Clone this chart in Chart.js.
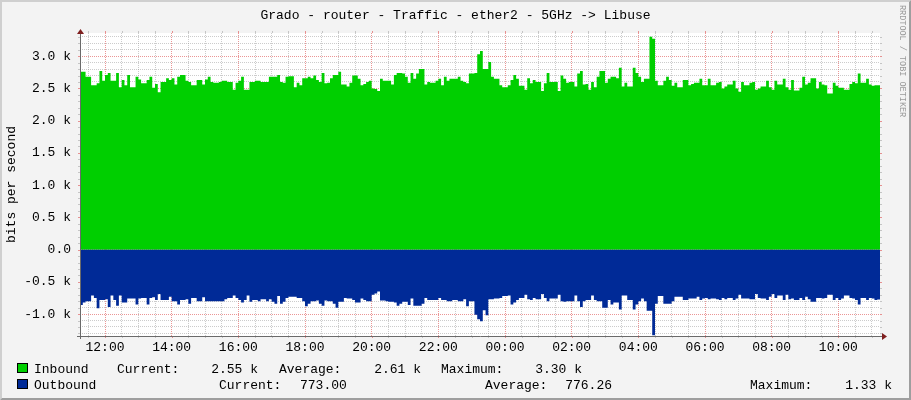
<!DOCTYPE html>
<html>
<head>
<meta charset="utf-8">
<title>Grado - router - Traffic - ether2 - 5GHz -&gt; Libuse</title>
<script src="https://cdn.jsdelivr.net/npm/chart.js@4.4.1/dist/chart.umd.min.js"></script>
<style>
  html, body { margin: 0; padding: 0; background: #f3f3f3; }
  #wrap { width: 911px; height: 400px; }
</style>
</head>
<body>
<div id="wrap"><canvas id="traffic" width="911" height="400"></canvas></div>
<script>
// 24h window, one sample every 5 minutes, first sample at 11:15
var startMinute = 675;
var stepMinutes = 5;

// bits per second
var inbound = [
  2760,2760,2680,2680,2550,2550,2580,2770,2620,2710,
  2740,2620,2620,2740,2520,2630,2550,2710,2520,2520,
  2680,2640,2580,2580,2630,2680,2510,2570,2440,2600,
  2600,2660,2630,2660,2560,2680,2710,2710,2620,2600,
  2550,2550,2630,2630,2560,2640,2680,2600,2590,2590,
  2600,2620,2620,2600,2600,2480,2590,2620,2680,2480,
  2480,2600,2600,2620,2620,2600,2600,2600,2680,2680,
  2680,2710,2600,2590,2680,2690,2690,2520,2590,2550,
  2660,2660,2680,2660,2700,2630,2600,2740,2580,2590,
  2660,2710,2710,2760,2560,2560,
  2530,2590,2700,2700,2650,2550,2570,2600,2620,2500,
  2490,2460,2650,2620,2620,2620,2560,2710,2740,2740,
  2730,2680,2590,2740,2650,2730,2800,2800,2560,2600,
  2590,2590,2620,2650,2550,2680,2620,2650,2650,2650,
  2680,2620,2600,2580,2730,2730,2740,3030,3080,2800,
  2800,2910,2680,2650,2650,2550,2520,2520,2550,2630,
  2710,2650,2540,2540,2480,2660,2580,2630,2600,2600,
  2460,2580,2740,2600,2600,2600,2460,2700,2650,2590,
  2600,2600,2530,2730,2770,2560,2570,2480,2600,2520,
  2680,2770,2770,2590,2650,2680,
  2680,2660,2820,2530,2590,2530,2530,2820,2740,2680,
  2600,2650,2650,3300,3270,2620,2550,2550,2620,2680,
  2630,2540,2590,2520,2520,2630,2630,2550,2570,2590,
  2590,2650,2550,2550,2650,2550,2550,2590,2600,2500,
  2530,2560,2560,2620,2500,2450,2600,2550,2550,2590,
  2600,2480,2500,2530,2530,2620,2520,2480,2620,2560,
  2560,2650,2520,2480,2630,2470,2470,2510,2680,2560,
  2590,2660,2660,2500,2600,2560,2550,2420,2420,2590,
  2540,2510,2510,2480,2480,2570,2600,2580,2730,2590,
  2590,2650,2560,2540,2550,2550
];

var outbound = [
  860,820,800,800,710,750,910,780,780,770,
  890,710,780,870,710,820,820,760,760,760,
  850,760,750,750,850,750,740,780,690,780,
  780,780,730,800,800,850,780,780,770,840,
  750,750,800,800,740,800,800,800,800,800,
  800,800,770,750,750,710,750,780,820,780,
  710,810,780,780,800,770,770,800,770,810,
  840,720,840,810,750,730,730,730,750,750,
  800,880,840,800,800,790,840,870,790,800,
  800,840,900,810,810,750,
  760,760,780,820,820,760,780,800,800,700,
  680,650,790,790,800,810,810,820,870,840,
  810,810,860,760,870,870,870,840,750,780,
  780,780,780,750,780,780,800,800,780,780,
  800,800,770,880,800,800,1010,1080,1110,940,
  1020,770,770,760,760,750,720,720,710,850,
  820,780,750,750,700,770,780,750,770,770,
  690,750,800,760,760,760,700,800,810,800,
  800,800,710,800,890,800,780,780,710,780,
  800,800,900,900,780,850,
  820,820,930,710,710,780,780,930,850,800,
  760,800,950,950,1330,840,720,720,840,840,
  840,800,730,730,730,780,780,760,760,760,
  730,780,760,750,770,760,760,770,780,750,
  770,750,750,780,760,700,760,760,760,770,
  770,690,750,760,760,780,730,690,750,710,
  710,780,700,770,760,780,780,750,780,730,
  770,810,810,750,750,760,750,700,700,780,
  750,780,760,710,710,750,760,780,850,750,
  750,780,750,760,780,773
];

var yTickLabels = ['-1.0 k', '-0.5 k', '0.0', '0.5 k', '1.0 k', '1.5 k', '2.0 k', '2.5 k', '3.0 k'];
var xTickLabels = ['12:00', '14:00', '16:00', '18:00', '20:00', '22:00',
                   '00:00', '02:00', '04:00', '06:00', '08:00', '10:00'];

var inboundStats = ['Current:', '2.55 k', 'Average:', '2.61 k', 'Maximum:', '3.30 k'];
var outboundStats = ['Current:', '773.00', 'Average:', '776.26', 'Maximum:', '1.33 k'];

var FONT = '"Liberation Mono", "DejaVu Sans Mono", monospace';
var GREEN = '#00CF00';
var BLUE = '#002A97';
var GRID = 'rgba(143,143,143,0.45)';
var MGRID = 'rgba(222,80,80,0.6)';

function series(values, sign) {
  var pts = values.map(function (v, i) {
    return { x: startMinute + i * stepMinutes, y: sign * v };
  });
  // close the last 5 minute step at the end of the window
  pts.push({ x: startMinute + values.length * stepMinutes, y: sign * values[values.length - 1] });
  return pts;
}

function isMajorY(v) { return v % 500 === 0; }
function isMajorX(v) { return v % 120 === 0; }

var rrdLook = {
  id: 'rrdLook',
  beforeDraw: function (chart) {
    var ctx = chart.ctx, a = chart.chartArea;
    ctx.save();
    ctx.fillStyle = '#f3f3f3';
    ctx.fillRect(0, 0, chart.width, chart.height);
    ctx.fillStyle = '#ffffff';
    ctx.fillRect(a.left, a.top, a.right - a.left, a.bottom - a.top);
    ctx.restore();
  },
  afterDraw: function (chart) {
    var ctx = chart.ctx, a = chart.chartArea;
    var W = chart.width, H = chart.height;
    var xs = chart.scales.x, ys = chart.scales.y;
    ctx.save();

    // little tick marks on both sides of the canvas
    ctx.lineWidth = 1;
    ys.ticks.forEach(function (t) {
      var py = Math.round(ys.getPixelForValue(t.value)) + 0.5;
      ctx.strokeStyle = isMajorY(t.value) ? MGRID : GRID;
      ctx.beginPath();
      ctx.moveTo(a.left - 2, py); ctx.lineTo(a.left, py);
      ctx.moveTo(a.right, py); ctx.lineTo(a.right + 2, py);
      ctx.stroke();
    });
    xs.ticks.forEach(function (t) {
      var px = Math.round(xs.getPixelForValue(t.value)) + 0.5;
      ctx.strokeStyle = isMajorX(t.value) ? MGRID : GRID;
      ctx.beginPath();
      ctx.moveTo(px, a.bottom); ctx.lineTo(px, a.bottom + 2);
      ctx.moveTo(px, a.top - 2); ctx.lineTo(px, a.top);
      ctx.stroke();
    });

    // axes
    ctx.strokeStyle = '#6a6a6a';
    ctx.beginPath();
    ctx.moveTo(a.left + 0.5, a.bottom + 3);
    ctx.lineTo(a.left + 0.5, a.top - 2);
    ctx.moveTo(a.left - 3, a.bottom + 0.5);
    ctx.lineTo(a.right + 4, a.bottom + 0.5);
    ctx.stroke();

    // arrows
    ctx.fillStyle = '#7f1f1f';
    ctx.beginPath();
    ctx.moveTo(a.left + 0.5, a.top - 4);
    ctx.lineTo(a.left - 3, a.top + 1);
    ctx.lineTo(a.left + 4, a.top + 1);
    ctx.closePath();
    ctx.fill();
    ctx.beginPath();
    ctx.moveTo(a.right + 7, a.bottom + 0.5);
    ctx.lineTo(a.right + 2, a.bottom - 3);
    ctx.lineTo(a.right + 2, a.bottom + 4);
    ctx.closePath();
    ctx.fill();

    // title
    ctx.fillStyle = '#000';
    ctx.font = '13px ' + FONT;
    ctx.textAlign = 'center';
    ctx.textBaseline = 'alphabetic';
    ctx.fillText('Grado - router - Traffic - ether2 - 5GHz -> Libuse', W / 2, 19);

    // unit label
    ctx.save();
    ctx.translate(15, (a.top + a.bottom) / 2);
    ctx.rotate(-Math.PI / 2);
    ctx.fillText('bits per second', 0, 0);
    ctx.restore();

    // legend
    function box(y, color) {
      ctx.fillStyle = color;
      ctx.fillRect(17, y, 11, 10);
      ctx.strokeStyle = '#000';
      ctx.strokeRect(17.5, y + 0.5, 10, 9);
    }
    function txt(s, x, y, align) {
      ctx.fillStyle = '#000';
      ctx.textAlign = align;
      ctx.fillText(s, x, y);
    }
    box(363, GREEN);
    txt('Inbound', 34, 373, 'left');
    txt(inboundStats[0], 117, 373, 'left');
    txt(inboundStats[1], 258, 373, 'right');
    txt(inboundStats[2], 279, 373, 'left');
    txt(inboundStats[3], 421, 373, 'right');
    txt(inboundStats[4], 441, 373, 'left');
    txt(inboundStats[5], 582, 373, 'right');

    box(379, BLUE);
    txt('Outbound', 34, 389, 'left');
    txt(outboundStats[0], 219, 389, 'left');
    txt(outboundStats[1], 300, 389, 'left');
    txt(outboundStats[2], 485, 389, 'left');
    txt(outboundStats[3], 612, 389, 'right');
    txt(outboundStats[4], 750, 389, 'left');
    txt(outboundStats[5], 892, 389, 'right');

    // watermark
    ctx.save();
    ctx.translate(902, 5);
    ctx.rotate(Math.PI / 2);
    ctx.font = '8.5px ' + FONT;
    ctx.fillStyle = '#9a9a9a';
    ctx.textAlign = 'left';
    ctx.textBaseline = 'middle';
    ctx.fillText('RRDTOOL / TOBI OETIKER', 0, 0);
    ctx.restore();

    // 3d frame
    ctx.fillStyle = '#cfcfcf';
    ctx.beginPath();
    ctx.moveTo(0, 0); ctx.lineTo(W, 0); ctx.lineTo(W - 2, 2);
    ctx.lineTo(2, 2); ctx.lineTo(2, H - 2); ctx.lineTo(0, H);
    ctx.closePath(); ctx.fill();
    ctx.fillStyle = '#9e9e9e';
    ctx.beginPath();
    ctx.moveTo(W, 0); ctx.lineTo(W, H); ctx.lineTo(0, H);
    ctx.lineTo(2, H - 2); ctx.lineTo(W - 2, H - 2); ctx.lineTo(W - 2, 2);
    ctx.closePath(); ctx.fill();

    ctx.restore();
  }
};

new Chart(document.getElementById('traffic'), {
  type: 'line',
  data: {
    datasets: [
      {
        label: 'Inbound',
        data: series(inbound, 1),
        backgroundColor: GREEN,
        borderColor: 'rgba(0,0,0,0)',
        borderWidth: 0,
        fill: 'origin',
        stepped: true,
        pointRadius: 0
      },
      {
        label: 'Outbound',
        data: series(outbound, -1),
        backgroundColor: BLUE,
        borderColor: 'rgba(0,0,0,0)',
        borderWidth: 0,
        fill: 'origin',
        stepped: true,
        pointRadius: 0
      }
    ]
  },
  options: {
    responsive: false,
    animation: false,
    events: [],
    layout: { padding: { top: 33, right: 31, left: 0, bottom: 0 } },
    plugins: {
      legend: { display: false },
      tooltip: { enabled: false },
      title: { display: false }
    },
    scales: {
      x: {
        type: 'linear',
        min: startMinute,
        max: startMinute + 24 * 60,
        z: 1,
        afterFit: function (s) { s.height = 64; },
        afterBuildTicks: function (s) {
          var t = [];
          for (var v = 690; v <= 2100; v += 30) t.push({ value: v });
          s.ticks = t;
        },
        grid: {
          drawTicks: false,
          lineWidth: 1,
          color: function (c) { return c.tick && isMajorX(c.tick.value) ? MGRID : GRID; }
        },
        border: { display: false, dash: [1, 1] },
        ticks: {
          autoSkip: false,
          maxRotation: 0,
          minRotation: 0,
          padding: 4,
          color: '#000',
          font: { family: FONT, size: 13 },
          callback: function (v) { return isMajorX(v) ? xTickLabels[(v - 720) / 120] : ''; }
        }
      },
      y: {
        min: -1340,
        max: 3360,
        z: 1,
        afterFit: function (s) { s.width = 80; },
        afterBuildTicks: function (s) {
          var t = [];
          for (var v = -1300; v <= 3300; v += 100) t.push({ value: v });
          s.ticks = t;
        },
        grid: {
          drawTicks: false,
          lineWidth: 1,
          color: function (c) { return c.tick && isMajorY(c.tick.value) ? MGRID : GRID; }
        },
        border: { display: false, dash: [1, 1] },
        ticks: {
          autoSkip: false,
          padding: 9,
          color: '#000',
          font: { family: FONT, size: 13 },
          callback: function (v) { return isMajorY(v) ? yTickLabels[(v + 1000) / 500] : ''; }
        }
      }
    }
  },
  plugins: [rrdLook]
});
</script>
</body>
</html>
